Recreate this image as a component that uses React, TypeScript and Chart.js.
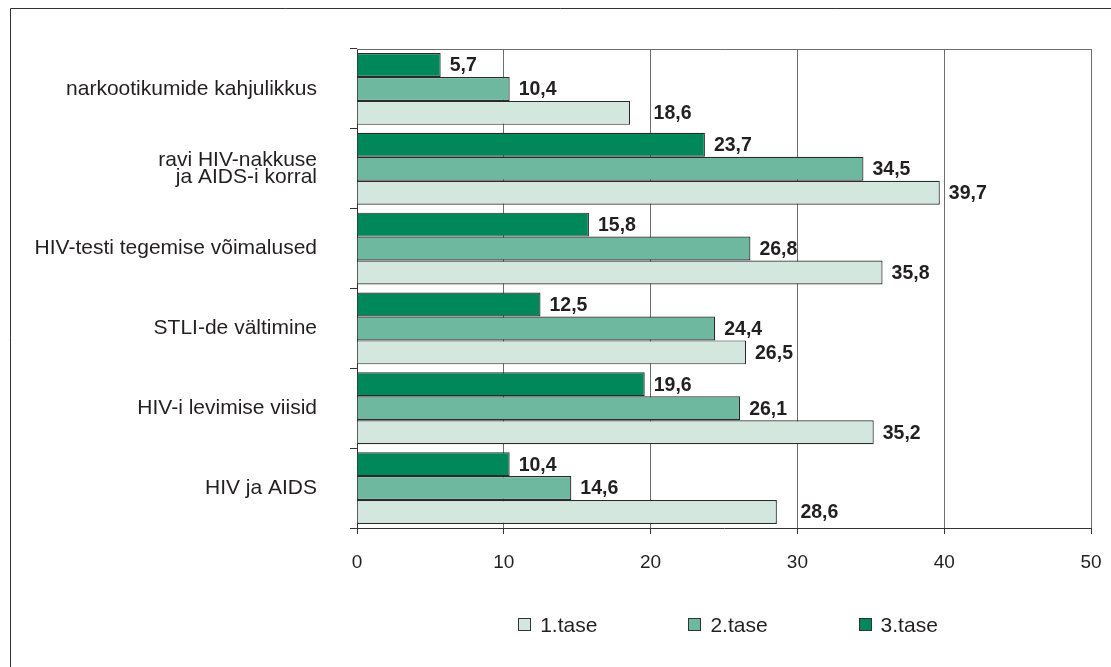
import { useEffect, useRef } from 'react';
import { Chart, registerables } from 'chart.js';

Chart.register(...registerables);

const FONT = '"Liberation Sans", Arial, Helvetica, sans-serif';
const TEXT = '#231f20';

const categories: (string | string[])[] = [
  'narkootikumide kahjulikkus',
  ['ravi HIV-nakkuse', 'ja AIDS-i korral'],
  'HIV-testi tegemise võimalused',
  'STLI-de vältimine',
  'HIV-i levimise viisid',
  'HIV ja AIDS',
];
const tase1 = [18.6, 39.7, 35.8, 26.5, 35.2, 28.6];
const tase2 = [10.4, 34.5, 26.8, 24.4, 26.1, 14.6];
const tase3 = [5.7, 23.7, 15.8, 12.5, 19.6, 10.4];
const seriesNames = ['1.tase', '2.tase', '3.tase'];
const seriesColors = ['#d3e7df', '#6fb8a0', '#00885b'];
const xTicks = [0, 10, 20, 30, 40, 50];

const fmt = (v: number) => v.toFixed(1).replace('.', ',');

const decorPlugin = {
  id: 'decor',
  beforeDraw(chart: any) {
    const ctx = chart.ctx;
    ctx.save();
    ctx.fillStyle = '#fff';
    ctx.fillRect(0, 0, chart.width, chart.height);
    ctx.restore();
  },
  afterDatasetsDraw(chart: any) {
    const ctx = chart.ctx;
    const xs = chart.scales.x;
    const grids = xTicks.slice(1, -1).map((v) => xs.getPixelForValue(v));
    ctx.save();
    ctx.font = `bold 19.5px ${FONT}`;
    ctx.fillStyle = TEXT;
    ctx.textBaseline = 'middle';
    ctx.textAlign = 'left';
    chart.data.datasets.forEach((ds: any, di: number) => {
      const meta = chart.getDatasetMeta(di);
      meta.data.forEach((el: any, i: number) => {
        const txt = fmt(ds.data[i]);
        const w = ctx.measureText(txt).width;
        let sx = el.x + 9;
        for (const g of grids) {
          if (sx < g && sx + w > g) sx = g + 3;
        }
        ctx.fillText(txt, sx, el.y + 1);
      });
    });
    ctx.restore();
  },
  afterDraw(chart: any) {
    const ctx = chart.ctx;
    const a = chart.chartArea;
    ctx.save();
    ctx.strokeStyle = '#6d6d6d';
    ctx.lineWidth = 1;
    ctx.beginPath();
    ctx.moveTo(a.left, Math.round(a.top) + 0.5);
    ctx.lineTo(a.right + 0.5, Math.round(a.top) + 0.5);
    ctx.stroke();
    ctx.strokeStyle = '#333';
    ctx.beginPath();
    ctx.moveTo(10.5, chart.height);
    ctx.lineTo(10.5, 8.5);
    ctx.lineTo(chart.width, 8.5);
    ctx.stroke();

    ctx.font = `21px ${FONT}`;
    ctx.textBaseline = 'middle';
    ctx.textAlign = 'left';
    const box = 13;
    const gapText = 9;
    const gapItem = 91;
    const widths = seriesNames.map((n) => box + gapText + ctx.measureText(n).width);
    const total = widths.reduce((s, w) => s + w, 0) + gapItem * (widths.length - 1);
    let x = (a.left + a.right) / 2 + 4 - total / 2;
    const cy = 625;
    seriesNames.forEach((n, i) => {
      ctx.fillStyle = seriesColors[i];
      ctx.fillRect(Math.round(x), cy - 7, box, box);
      ctx.strokeStyle = '#333';
      ctx.lineWidth = 1;
      ctx.strokeRect(Math.round(x) + 0.5, cy - 6.5, box - 1, box - 1);
      ctx.fillStyle = TEXT;
      ctx.fillText(n, x + box + gapText, cy + 1);
      x += widths[i] + gapItem;
    });
    ctx.restore();
  },
};

export default function App() {
  const ref = useRef<HTMLCanvasElement>(null);
  useEffect(() => {
    const mk = (label: string, data: number[], color: string) => ({
      label,
      data,
      backgroundColor: color,
      borderColor: '#2b2b2b',
      borderWidth: 1.2,
      categoryPercentage: 0.9,
      barPercentage: 1,
    });
    const chart = new Chart(ref.current!, {
      type: 'bar',
      data: {
        labels: categories,
        datasets: [
          mk(seriesNames[2], tase3, seriesColors[2]),
          mk(seriesNames[1], tase2, seriesColors[1]),
          mk(seriesNames[0], tase1, seriesColors[0]),
        ],
      },
      options: {
        indexAxis: 'y',
        animation: false,
        responsive: false,
        devicePixelRatio: 1,
        layout: { padding: { top: 49, right: 20, left: 0, bottom: 0 } },
        plugins: {
          legend: { display: false },
          tooltip: { enabled: false },
        },
        scales: {
          x: {
            min: 0,
            max: 50,
            ticks: {
              stepSize: 10,
              color: TEXT,
              font: { family: FONT, size: 19 },
              padding: 17,
            },
            grid: {
              color: '#6d6d6d',
              lineWidth: 1,
              tickLength: 6,
              tickColor: '#333',
            },
            border: { color: '#333', width: 1 },
            afterFit: (s: any) => {
              s.height = 139;
              s.paddingRight = 0;
              s.paddingLeft = 0;
            },
          },
          y: {
            ticks: {
              color: TEXT,
              font: { family: FONT, size: 21, lineHeight: 0.82 },
              padding: 33,
            },
            grid: {
              drawOnChartArea: false,
              offset: true,
              tickLength: 7,
              tickColor: '#333',
            },
            border: { color: '#333', width: 1 },
            afterFit: (s: any) => {
              s.width = 357;
              s.paddingTop = 0;
              s.paddingBottom = 0;
            },
          },
        },
      },
      plugins: [decorPlugin],
    } as any);
    return () => chart.destroy();
  }, []);
  return (
    <div style={{ position: 'fixed', left: 0, top: 0, width: 1111, height: 667, background: '#fff' }}>
      <canvas ref={ref} width={1111} height={667} style={{ display: 'block', width: 1111, height: 667 }} />
    </div>
  );
}
